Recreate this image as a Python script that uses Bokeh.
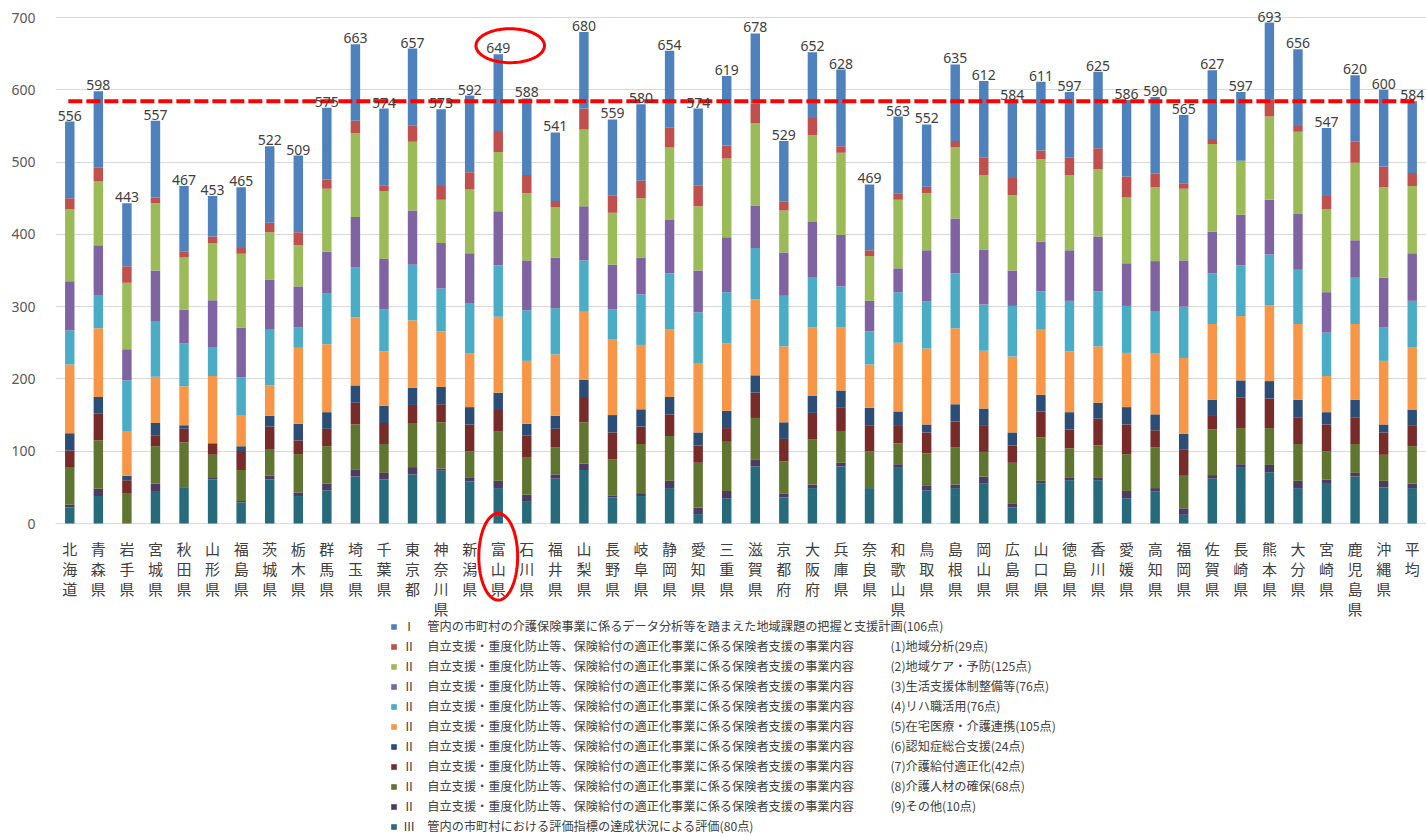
import numpy as np
from bokeh.plotting import figure
from bokeh.models import (ColumnDataSource, FactorRange, Range1d, FixedTicker, Legend,
                          LegendItem, PolyAnnotation)
from bokeh.core.properties import value
from bokeh.embed import file_html
from bokeh.resources import INLINE

prefs = ["北海道", "青森県", "岩手県", "宮城県", "秋田県", "山形県", "福島県", "茨城県", "栃木県",
         "群馬県", "埼玉県", "千葉県", "東京都", "神奈川県", "新潟県", "富山県", "石川県", "福井県",
         "山梨県", "長野県", "岐阜県", "静岡県", "愛知県", "三重県", "滋賀県", "京都府", "大阪府",
         "兵庫県", "奈良県", "和歌山県", "鳥取県", "島根県", "岡山県", "広島県", "山口県", "徳島県",
         "香川県", "愛媛県", "高知県", "福岡県", "佐賀県", "長崎県", "熊本県", "大分県", "宮崎県",
         "鹿児島県", "沖縄県", "平均"]

# series values (bottom of stack first)
s_III = [22, 38, 0, 45, 49, 61, 29, 61, 38, 46, 65, 61, 68, 73, 58, 49, 30, 62, 74, 36, 38, 49, 13, 35,
         79, 36, 49, 79, 49, 77, 46, 49, 55, 22, 55, 60, 60, 35, 44, 12, 62, 77, 71, 49, 56, 65, 50, 49]
s_II9 = [4, 10, 0, 10, 1, 2, 2, 5, 5, 9, 10, 9, 10, 3, 5, 10, 10, 6, 9, 3, 4, 10, 9, 10,
         9, 5, 5, 5, 0, 5, 6, 5, 10, 6, 4, 4, 4, 10, 5, 9, 5, 5, 10, 10, 5, 5, 9, 6]
s_II8 = [51, 67, 41, 52, 62, 32, 43, 37, 53, 52, 62, 40, 61, 64, 37, 68, 51, 37, 57, 50, 68, 62, 62, 68,
         58, 45, 62, 44, 51, 29, 45, 51, 34, 56, 60, 40, 44, 51, 56, 45, 63, 50, 51, 51, 39, 40, 36, 52]
s_II7 = [24, 37, 19, 15, 19, 15, 25, 31, 19, 24, 30, 29, 25, 25, 37, 30, 31, 26, 35, 37, 24, 30, 24, 19,
         35, 31, 37, 32, 36, 24, 29, 36, 36, 24, 36, 26, 37, 41, 24, 36, 20, 42, 41, 37, 37, 37, 31, 29]
s_II6 = [24, 23, 6, 17, 5, 1, 8, 15, 23, 23, 24, 24, 24, 24, 24, 24, 16, 18, 24, 24, 24, 24, 18, 24,
         24, 23, 24, 24, 24, 20, 11, 24, 24, 18, 23, 24, 22, 24, 22, 22, 21, 24, 24, 24, 17, 24, 11, 21]
s_II5 = [95, 95, 62, 64, 54, 93, 42, 42, 105, 94, 94, 75, 93, 77, 74, 105, 87, 85, 95, 105, 89, 94, 95, 93,
         105, 105, 94, 87, 60, 95, 105, 105, 80, 105, 90, 84, 78, 75, 84, 105, 105, 89, 105, 105, 50, 105, 88, 87]
s_II4 = [47, 46, 70, 76, 59, 40, 53, 77, 28, 70, 69, 58, 77, 59, 70, 71, 70, 64, 70, 41, 70, 77, 71, 71,
         71, 70, 70, 57, 46, 70, 65, 76, 64, 70, 53, 70, 76, 65, 59, 71, 70, 70, 70, 75, 60, 64, 46, 64]
s_II3 = [68, 69, 43, 71, 47, 65, 69, 69, 57, 58, 70, 70, 75, 63, 69, 75, 69, 70, 75, 62, 51, 74, 58, 76,
         59, 60, 76, 71, 42, 33, 71, 76, 76, 49, 69, 70, 76, 59, 69, 64, 58, 70, 76, 77, 56, 52, 69, 66]
s_II2 = [100, 88, 92, 93, 72, 79, 102, 66, 57, 87, 116, 94, 95, 60, 88, 82, 93, 70, 106, 72, 82, 100, 89, 109,
         114, 58, 120, 114, 62, 95, 79, 99, 103, 104, 114, 104, 93, 91, 102, 99, 121, 75, 115, 114, 115, 107, 125, 93]
s_II1 = [15, 19, 23, 8, 8, 9, 8, 13, 18, 13, 17, 8, 23, 19, 24, 29, 25, 8, 29, 24, 24, 28, 29, 18,
         27, 12, 24, 9, 8, 9, 9, 8, 24, 24, 12, 24, 29, 29, 19, 7, 7, 0, 24, 8, 18, 29, 29, 18]
s_I = [106, 106, 87, 106, 91, 56, 84, 106, 106, 99, 106, 106, 106, 106, 106, 106, 106, 95, 106, 105, 106, 106, 106, 96,
       97, 84, 91, 106, 91, 106, 86, 106, 106, 106, 95, 91, 106, 106, 106, 95, 95, 95, 106, 106, 94, 92, 106, 99]

y_ticks = [0, 100, 200, 300, 400, 500, 600, 700]
highlight = "富山県"

leg_I = "Ⅰ　管内の市町村の介護保険事業に係るデータ分析等を踏まえた地域課題の把握と支援計画(106点)"
leg_II_head = "Ⅱ　自立支援・重度化防止等、保険給付の適正化事業に係る保険者支援の事業内容"
leg_II_sub = ["(1)地域分析(29点)", "(2)地域ケア・予防(125点)", "(3)生活支援体制整備等(76点)",
              "(4)リハ職活用(76点)", "(5)在宅医療・介護連携(105点)", "(6)認知症総合支援(24点)",
              "(7)介護給付適正化(42点)", "(8)介護人材の確保(68点)", "(9)その他(10点)"]
leg_III = "Ⅲ　管内の市町村における評価指標の達成状況による評価(80点)"

# stack from bottom
keys = ["III", "II9", "II8", "II7", "II6", "II5", "II4", "II3", "II2", "II1", "I"]
series = [s_III, s_II9, s_II8, s_II7, s_II6, s_II5, s_II4, s_II3, s_II2, s_II1, s_I]
colors = ["#276A7C", "#4D3B62", "#5F7530", "#772C2A", "#2C4D75", "#F79646",
          "#4BACC6", "#8064A2", "#9BBB59", "#C0504D", "#4F81BD"]

data = {"pref": prefs}
for k, s in zip(keys, series):
    data[k] = s
totals = [int(sum(v)) for v in zip(*series)]
data["total"] = totals
data["label"] = [str(t) for t in totals]
source = ColumnDataSource(data)

CJK = "Noto Sans CJK JP"
NUM = "Noto Sans"

# layout: value 0 at 523px, 506px per 700 units; frame covers the whole canvas height
SCALE = 506 / 700.0
FRAME_H = 836
ZERO_PX = 523
y_end = ZERO_PX / SCALE
y_start = -(FRAME_H - ZERO_PX) / SCALE

p = figure(x_range=FactorRange(factors=prefs), y_range=Range1d(y_start, y_end),
           frame_width=1371, frame_height=FRAME_H,
           output_backend="svg", toolbar_location=None,
           min_border_left=55, min_border_right=0, min_border_top=0, min_border_bottom=0)
p.outline_line_color = None
p.background_fill_color = "white"

renderers = p.vbar_stack(keys, x="pref", width=0.33, color=colors, line_color=None, source=source)

# average line
avg = totals[-1]
n = len(prefs)
p.line(x=[0.45, n - 0.3], y=[avg, avg], line_color="#FF0000", line_width=4, line_dash="14 4")

# total labels
p.text(x="pref", y="total", text="label", source=source, text_align="center",
       text_baseline="bottom", y_offset=-1, text_font_size="14px",
       text_color="#404040", text_font=value(NUM))

# vertical category labels (one character per row)
max_len = max(len(s) for s in prefs)
for k in range(max_len):
    row_chars = [s[k] if len(s) > k else "" for s in prefs]
    row_y = -(25 + 20 * k) / SCALE
    p.text(x=prefs, y=[row_y] * n, text=row_chars, text_align="center", text_baseline="middle",
           text_font=value(CJK), text_font_size="15px", text_color="#404040")

# highlight ellipses
hi = prefs.index(highlight) + 0.5
t = np.linspace(0, 2 * np.pi, 90)
top_c = totals[prefs.index(highlight)] + 12
p.add_layout(PolyAnnotation(xs=list(hi + 0.42 + 1.2 * np.cos(t)), ys=list(top_c + 23.5 * np.sin(t)),
                            fill_alpha=0, line_color="#FF0000", line_alpha=1, line_width=3))
p.add_layout(PolyAnnotation(xs=list(hi + 0.68 * np.cos(t)), ys=list(-46 + 60 * np.sin(t)),
                            fill_alpha=0, line_color="#FF0000", line_alpha=1, line_width=3))

# axes
p.xaxis.visible = False
p.yaxis.ticker = FixedTicker(ticks=y_ticks)
p.yaxis.axis_line_color = None
p.yaxis.major_tick_line_color = None
p.yaxis.minor_tick_line_color = None
p.yaxis.major_tick_out = 0
p.yaxis.major_label_standoff = 20
p.yaxis.major_label_text_font_size = "14px"
p.yaxis.major_label_text_color = "#595959"
p.yaxis.major_label_text_font = NUM
p.ygrid.grid_line_color = "#d9d9d9"
p.xgrid.grid_line_color = None

# legend (top to bottom: I, II(1..9), III)
order = ["I", "II1", "II2", "II3", "II4", "II5", "II6", "II7", "II8", "II9", "III"]
names = [leg_I] + [leg_II_head + "　　　" + s for s in leg_II_sub] + [leg_III]
items = [LegendItem(label=nm, renderers=[renderers[keys.index(k)]]) for k, nm in zip(order, names)]
legend = Legend(items=items, location=(335, 1), orientation="vertical",
                label_text_font=CJK, label_text_font_size="12.2px", label_text_color="#404040",
                glyph_width=7, glyph_height=7, label_standoff=6, spacing=2, label_height=18,
                padding=0, margin=0, border_line_color=None, background_fill_alpha=0)
p.add_layout(legend, "center")

open("out.html", "w").write(file_html(p, INLINE))
